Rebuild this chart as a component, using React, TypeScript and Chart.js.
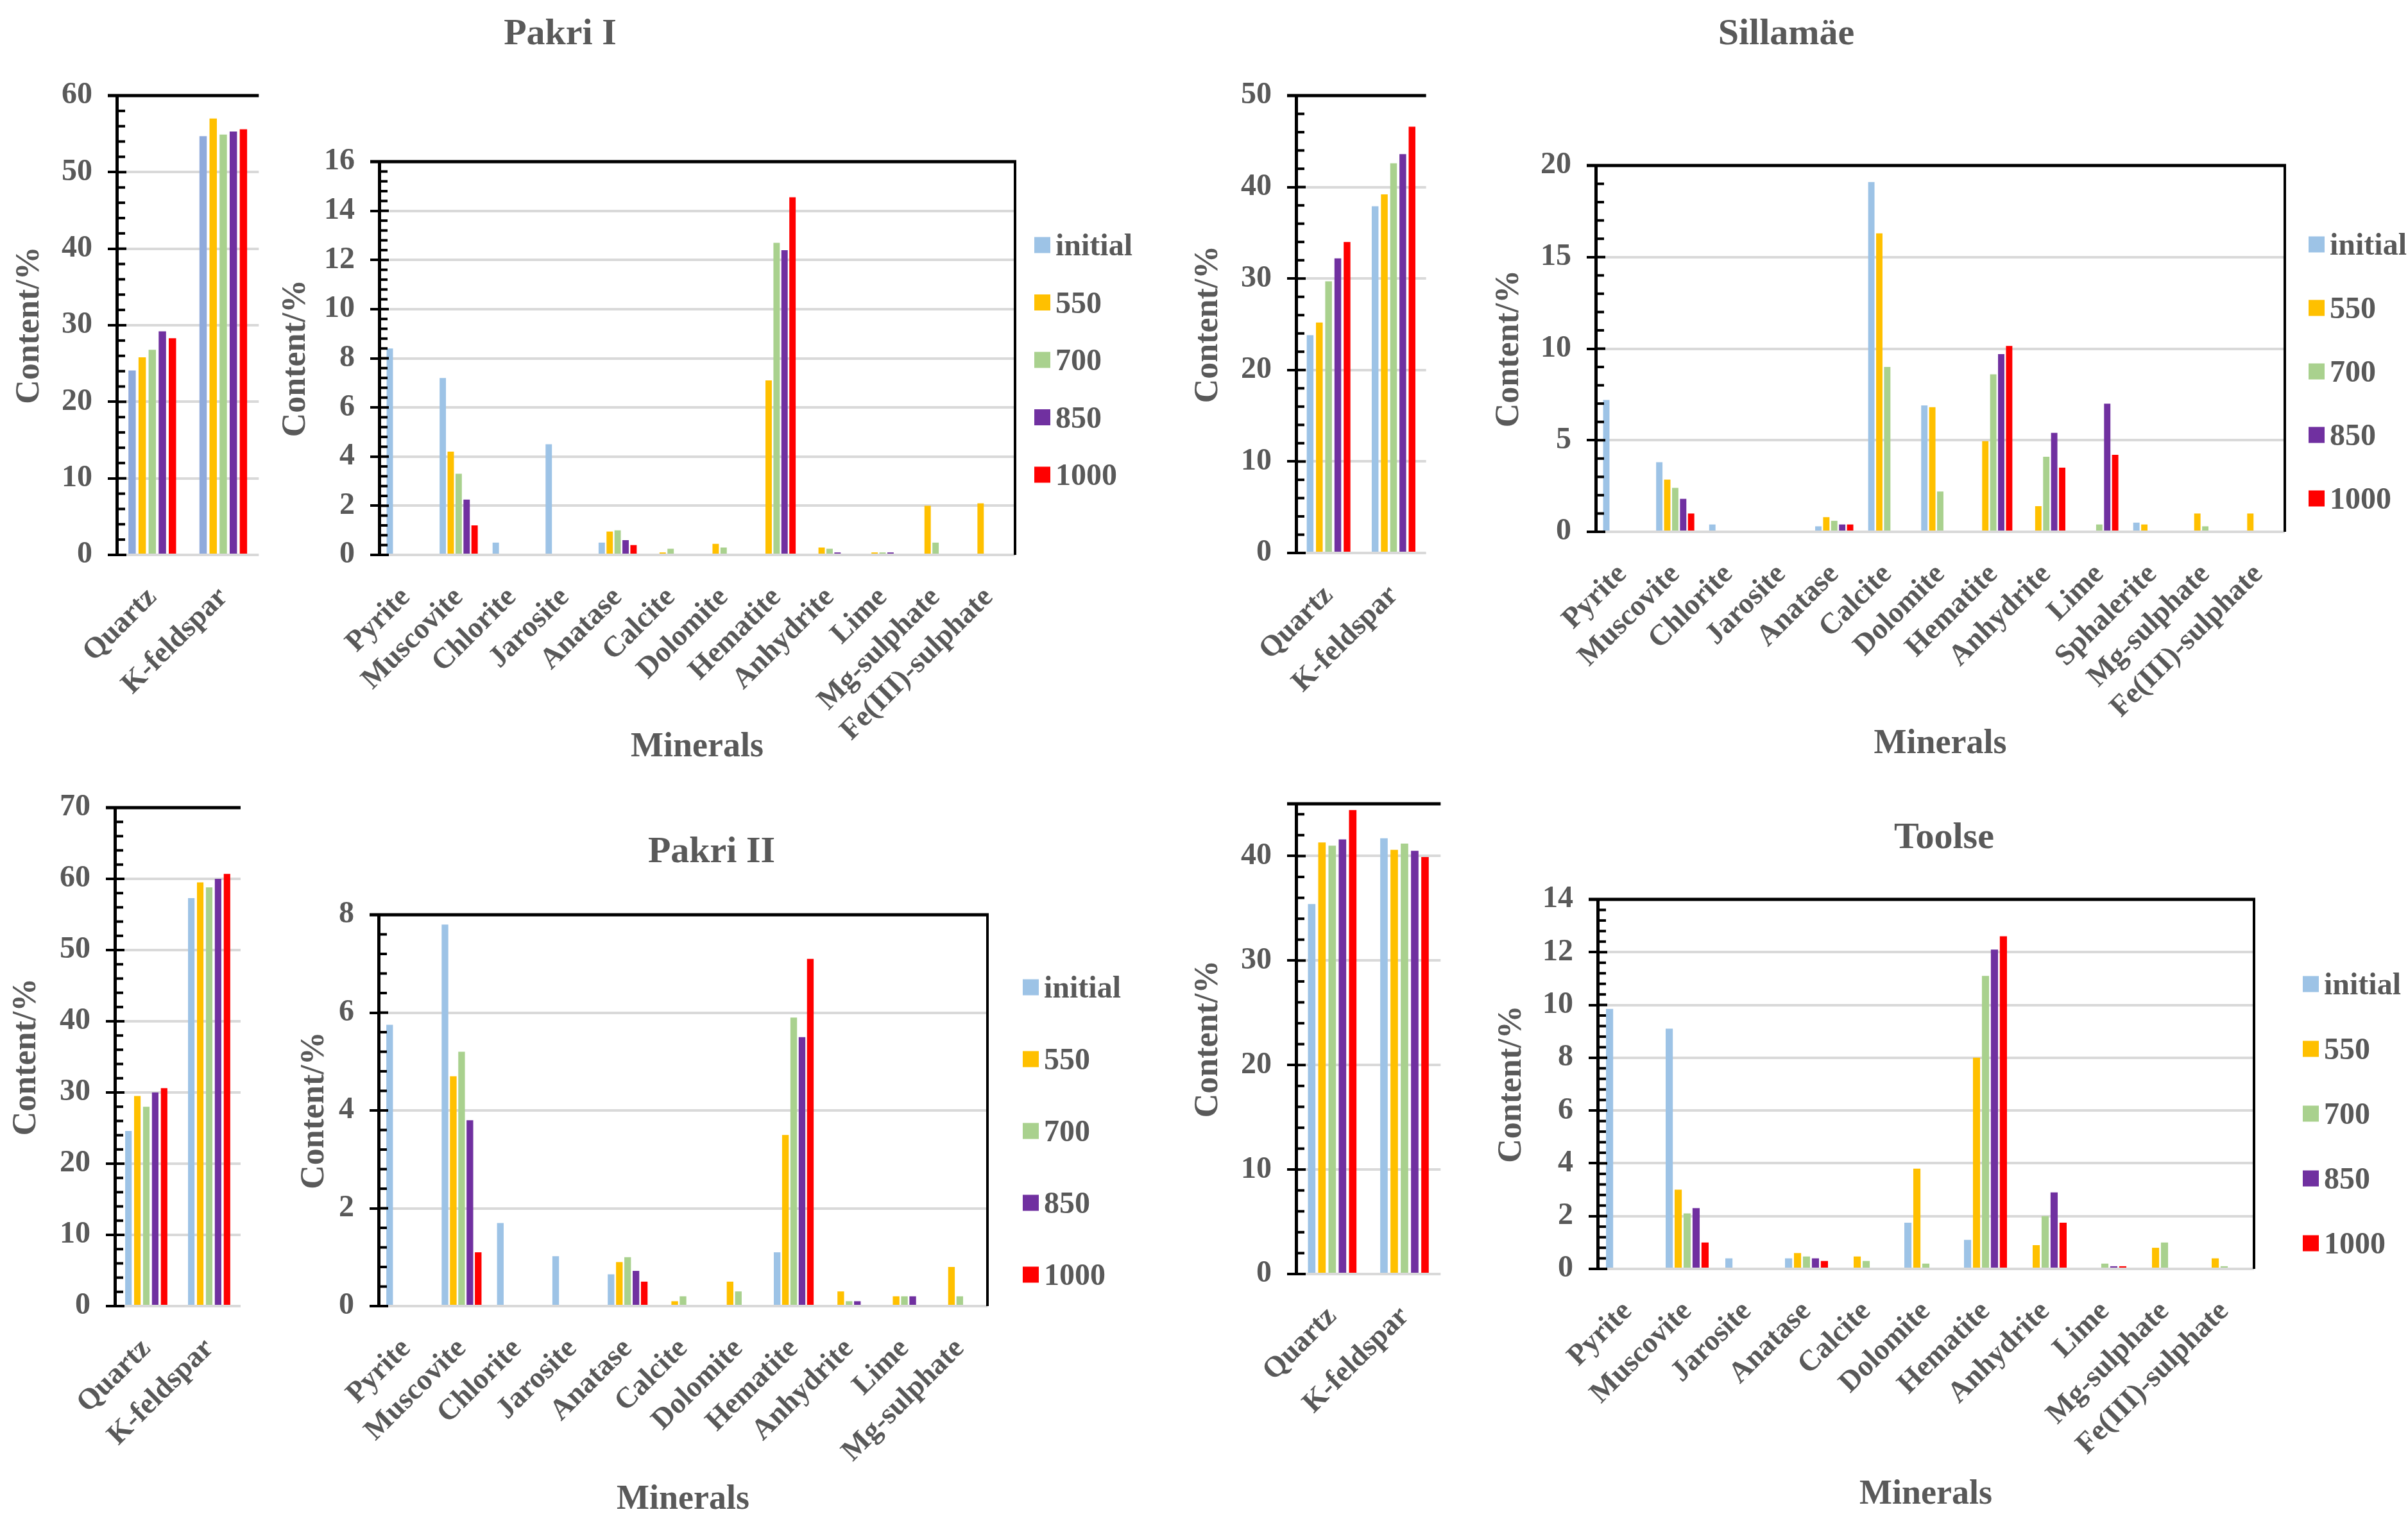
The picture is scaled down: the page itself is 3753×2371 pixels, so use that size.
import React, { useEffect, useRef } from "react";
import { Chart, registerables } from "chart.js";

Chart.register(...registerables);

const FONT = "'Liberation Serif', 'Times New Roman', Times, serif";
const TEXT = "#595959";

// ---------- data ----------
const SERIES = ["initial", "550", "700", "850", "1000"];
const SERIES_COLORS = ["#9DC3E6", "#FFC000", "#A9D18E", "#7030A0", "#FF0000"];

const MAJOR_MINERALS = ["Quartz", "K-feldspar"];
const PAKRI1_MINERALS = ["Pyrite", "Muscovite", "Chlorite", "Jarosite", "Anatase", "Calcite", "Dolomite", "Hematite", "Anhydrite", "Lime", "Mg-sulphate", "Fe(III)-sulphate"];
const SILLAMAE_MINERALS = ["Pyrite", "Muscovite", "Chlorite", "Jarosite", "Anatase", "Calcite", "Dolomite", "Hematite", "Anhydrite", "Lime", "Sphalerite", "Mg-sulphate", "Fe(III)-sulphate"];
const PAKRI2_MINERALS = ["Pyrite", "Muscovite", "Chlorite", "Jarosite", "Anatase", "Calcite", "Dolomite", "Hematite", "Anhydrite", "Lime", "Mg-sulphate"];
const TOOLSE_MINERALS = ["Pyrite", "Muscovite", "Jarosite", "Anatase", "Calcite", "Dolomite", "Hematite", "Anhydrite", "Lime", "Mg-sulphate", "Fe(III)-sulphate"];

// rows: initial, 550, 700, 850, 1000
const pakri1Major = [
  [24.1, 54.7],
  [25.8, 57.0],
  [26.8, 54.9],
  [29.2, 55.3],
  [28.3, 55.6],
];
const pakri1Minor = [
  [8.4, 7.2, 0.5, 4.5, 0.5, 0, 0, 0, 0, 0, 0, 0],
  [0, 4.2, 0, 0, 0.95, 0.1, 0.45, 7.1, 0.3, 0.1, 2.0, 2.1],
  [0, 3.3, 0, 0, 1.0, 0.25, 0.3, 12.7, 0.25, 0.1, 0.5, 0],
  [0, 2.25, 0, 0, 0.6, 0, 0, 12.4, 0.1, 0.1, 0, 0],
  [0, 1.2, 0, 0, 0.4, 0, 0, 14.55, 0, 0, 0, 0],
];
const sillamaeMajor = [
  [23.8, 37.9],
  [25.2, 39.2],
  [29.7, 42.6],
  [32.2, 43.6],
  [34.0, 46.6],
];
const sillamaeMinor = [
  [7.2, 3.8, 0.4, 0, 0.3, 19.1, 6.9, 0, 0, 0, 0.5, 0, 0],
  [0, 2.85, 0, 0, 0.8, 16.3, 6.8, 4.95, 1.4, 0, 0.4, 1.0, 1.0],
  [0, 2.4, 0, 0, 0.6, 9.0, 2.2, 8.6, 4.1, 0.4, 0, 0.3, 0],
  [0, 1.8, 0, 0, 0.4, 0, 0, 9.7, 5.4, 7.0, 0, 0, 0],
  [0, 1.0, 0, 0, 0.4, 0, 0, 10.15, 3.5, 4.2, 0, 0, 0],
];
const pakri2Major = [
  [24.6, 57.3],
  [29.5, 59.5],
  [28.0, 58.8],
  [30.0, 60.0],
  [30.6, 60.7],
];
const pakri2Minor = [
  [5.75, 7.8, 1.7, 1.02, 0.65, 0, 0, 1.1, 0, 0, 0],
  [0, 4.7, 0, 0, 0.9, 0.1, 0.5, 3.5, 0.3, 0.2, 0.8],
  [0, 5.2, 0, 0, 1.0, 0.2, 0.3, 5.9, 0.1, 0.2, 0.2],
  [0, 3.8, 0, 0, 0.72, 0, 0, 5.5, 0.1, 0.2, 0],
  [0, 1.1, 0, 0, 0.5, 0, 0, 7.1, 0, 0, 0],
];
const toolseMajor = [
  [35.4, 41.7],
  [41.3, 40.6],
  [41.0, 41.2],
  [41.6, 40.5],
  [44.4, 39.9],
];
const toolseMinor = [
  [9.85, 9.1, 0.4, 0.4, 0, 1.75, 1.1, 0, 0, 0, 0],
  [0, 3.0, 0, 0.6, 0.47, 3.8, 8.0, 0.9, 0, 0.8, 0.4],
  [0, 2.1, 0, 0.47, 0.3, 0.2, 11.1, 2.0, 0.2, 1.0, 0.1],
  [0, 2.3, 0, 0.4, 0, 0, 12.1, 2.9, 0.1, 0, 0],
  [0, 1.0, 0, 0.3, 0, 0, 12.6, 1.75, 0.1, 0, 0],
];

const PANEL_TITLES = ["Pakri I", "Sillamäe", "Pakri II", "Toolse"];

// ---------- layout ----------
type LegendSpec = { dx: number; dy: number; gap: number };
type Spec = {
  id: string;
  labels: string[];
  values: number[][];
  max: number;
  step: number;
  plot: [number, number, number, number];
  canvasLeft: number;
  canvasBottom: number;
  padRight: number;
  box: boolean;
  legend?: LegendSpec;
  xTitle?: string;
  firstColor?: string;
  cat: number;
  bar: number;
};

const PAD_TOP = 58;

const PANELS: Spec[] = [
  { id: "p1a", labels: MAJOR_MINERALS, values: pakri1Major, max: 60, step: 10, plot: [182, 149, 412, 865], canvasLeft: 21, canvasBottom: 1110, padRight: 20, box: false, firstColor: "#8FAADC", cat: 0.71, bar: 0.73 },
  { id: "p1b", labels: PAKRI1_MINERALS, values: pakri1Minor, max: 16, step: 2, plot: [591, 252, 1582, 865], canvasLeft: 436, canvasBottom: 1192, padRight: 200, box: true, legend: { dx: 30, dy: 130, gap: 89.5 }, xTitle: "Minerals", cat: 0.75, bar: 0.8 },
  { id: "s_a", labels: MAJOR_MINERALS, values: sillamaeMajor, max: 50, step: 10, plot: [2020, 149, 2236, 862], canvasLeft: 1858, canvasBottom: 1110, padRight: 20, box: false, cat: 0.71, bar: 0.73 },
  { id: "s_b", labels: SILLAMAE_MINERALS, values: sillamaeMinor, max: 20, step: 5, plot: [2487, 258, 3561, 829], canvasLeft: 2327, canvasBottom: 1187, padRight: 190, box: true, legend: { dx: 37, dy: 123, gap: 99 }, xTitle: "Minerals", cat: 0.75, bar: 0.8 },
  { id: "p2a", labels: MAJOR_MINERALS, values: pakri2Major, max: 70, step: 10, plot: [179, 1259, 390, 2036], canvasLeft: 16, canvasBottom: 2300, padRight: 20, box: false, cat: 0.71, bar: 0.73 },
  { id: "p2b", labels: PAKRI2_MINERALS, values: pakri2Minor, max: 8, step: 2, plot: [590, 1426, 1539, 2036], canvasLeft: 465, canvasBottom: 2365, padRight: 230, box: true, legend: { dx: 55, dy: 113, gap: 112 }, xTitle: "Minerals", cat: 0.75, bar: 0.8 },
  { id: "t_a", labels: MAJOR_MINERALS, values: toolseMajor, max: 45, step: 10, plot: [2020, 1253, 2253, 1986], canvasLeft: 1858, canvasBottom: 2260, padRight: 20, box: false, cat: 0.71, bar: 0.73 },
  { id: "t_b", labels: TOOLSE_MINERALS, values: toolseMinor, max: 14, step: 2, plot: [2490, 1402, 3513, 1978], canvasLeft: 2331, canvasBottom: 2357, padRight: 235, box: true, legend: { dx: 76, dy: 132, gap: 101 }, xTitle: "Minerals", cat: 0.75, bar: 0.8 },
];

const TITLE_POS: [number, number][] = [
  [873, 50],
  [2784, 50],
  [1109, 1325],
  [3030, 1303],
];

// ---------- plugin: frame, ticks, side legend ----------
const framePlugin = {
  id: "frame",
  afterDraw(chart: any, _args: any, opts: any) {
    const { ctx, chartArea } = chart;
    const { left, right, top, bottom } = chartArea;
    const y = chart.scales.y;
    ctx.save();
    ctx.strokeStyle = "#000";
    ctx.lineCap = "butt";
    ctx.lineWidth = 4;
    const minor = opts.step / 5;
    const n = Math.floor(y.max / minor + 1e-6);
    for (let i = 0; i <= n; i++) {
      const v = i * minor;
      const py = y.getPixelForValue(v);
      const len = i % 5 === 0 ? 15 : 13;
      ctx.beginPath();
      ctx.moveTo(left, py);
      ctx.lineTo(left + len, py);
      ctx.stroke();
    }
    ctx.lineWidth = 5;
    ctx.beginPath();
    ctx.moveTo(left - 14, top);
    ctx.lineTo(right + (opts.box ? 2 : 0), top);
    ctx.stroke();
    if (opts.box) {
      ctx.lineWidth = 4;
      ctx.beginPath();
      ctx.moveTo(right, top);
      ctx.lineTo(right, bottom);
      ctx.stroke();
    }
    if (opts.legend) {
      const { dx, dy, gap } = opts.legend;
      ctx.font = `bold 48px ${FONT}`;
      ctx.textAlign = "left";
      ctx.textBaseline = "alphabetic";
      chart.data.datasets.forEach((ds: any, i: number) => {
        const cy = top + dy + i * gap;
        ctx.fillStyle = ds.backgroundColor;
        ctx.fillRect(right + dx, cy - 12.5, 25, 25);
        ctx.fillStyle = TEXT;
        ctx.fillText(ds.label, right + dx + 33, cy + 16);
      });
    }
    ctx.restore();
  },
};

function Panel({ spec }: { spec: Spec }) {
  const ref = useRef<HTMLCanvasElement>(null);
  const [pl, pt, pr, pb] = spec.plot;
  const cTop = pt - PAD_TOP;
  const cLeft = spec.canvasLeft;
  const w = pr + spec.padRight - cLeft;
  const h = spec.canvasBottom - cTop;

  useEffect(() => {
    if (!ref.current) return;
    const chart = new Chart(ref.current, {
      type: "bar",
      data: {
        labels: spec.labels,
        datasets: SERIES.map((s, i) => ({
          label: s,
          data: spec.values[i],
          backgroundColor: i === 0 && spec.firstColor ? spec.firstColor : SERIES_COLORS[i],
          borderWidth: 0,
          categoryPercentage: spec.cat,
          barPercentage: spec.bar,
        })),
      },
      options: {
        responsive: false,
        animation: false,
        devicePixelRatio: 1,
        layout: { padding: { top: PAD_TOP, right: spec.padRight, left: 0, bottom: 0 } },
        plugins: {
          legend: { display: false },
          tooltip: { enabled: false },
          frame: { step: spec.step, box: spec.box, legend: spec.legend },
        } as any,
        scales: {
          x: {
            grid: { display: false, drawTicks: false },
            border: { display: false },
            ticks: {
              autoSkip: false,
              maxRotation: 45,
              minRotation: 45,
              padding: 40,
              color: TEXT,
              font: { family: FONT, size: 46, weight: "bold" },
            },
            title: spec.xTitle
              ? { display: true, text: spec.xTitle, color: TEXT, padding: 0, font: { family: FONT, size: 54, weight: "bold", lineHeight: 1 } }
              : { display: false },
            afterFit: (s: any) => {
              s.height = spec.canvasBottom - pb;
            },
          },
          y: {
            min: 0,
            max: spec.max,
            ticks: {
              stepSize: spec.step,
              padding: 24,
              color: TEXT,
              font: { family: FONT, size: 48, weight: "bold" },
              callback: (v: any) => (Math.abs(Number(v) % spec.step) < 1e-9 ? String(v) : ""),
            },
            grid: { color: "#D9D9D9", lineWidth: 4, tickColor: "#000", tickLength: 14, tickWidth: 4 },
            border: { display: true, color: "#000", width: 5 },
            title: { display: true, text: "Content/%", color: TEXT, padding: 0, font: { family: FONT, size: 52, weight: "bold", lineHeight: 1 } },
            afterFit: (s: any) => {
              s.width = pl - cLeft;
            },
          },
        } as any,
      },
      plugins: [framePlugin],
    } as any);
    return () => chart.destroy();
  }, [spec]);

  return (
    <canvas
      ref={ref}
      width={w}
      height={h}
      style={{ position: "absolute", left: cLeft, top: cTop, width: w, height: h }}
    />
  );
}

export default function App() {
  return (
    <div style={{ position: "absolute", left: 0, top: 0, width: 3753, height: 2371, background: "#fff", overflow: "hidden" }}>
      {PANEL_TITLES.map((t, i) => (
        <div
          key={t}
          style={{
            position: "absolute",
            left: TITLE_POS[i][0],
            top: TITLE_POS[i][1],
            transform: "translate(-50%, -50%)",
            fontFamily: FONT,
            fontWeight: "bold",
            fontSize: 58,
            lineHeight: 1,
            color: TEXT,
            whiteSpace: "nowrap",
          }}
        >
          {t}
        </div>
      ))}
      {PANELS.map((p) => (
        <Panel key={p.id} spec={p} />
      ))}
    </div>
  );
}
